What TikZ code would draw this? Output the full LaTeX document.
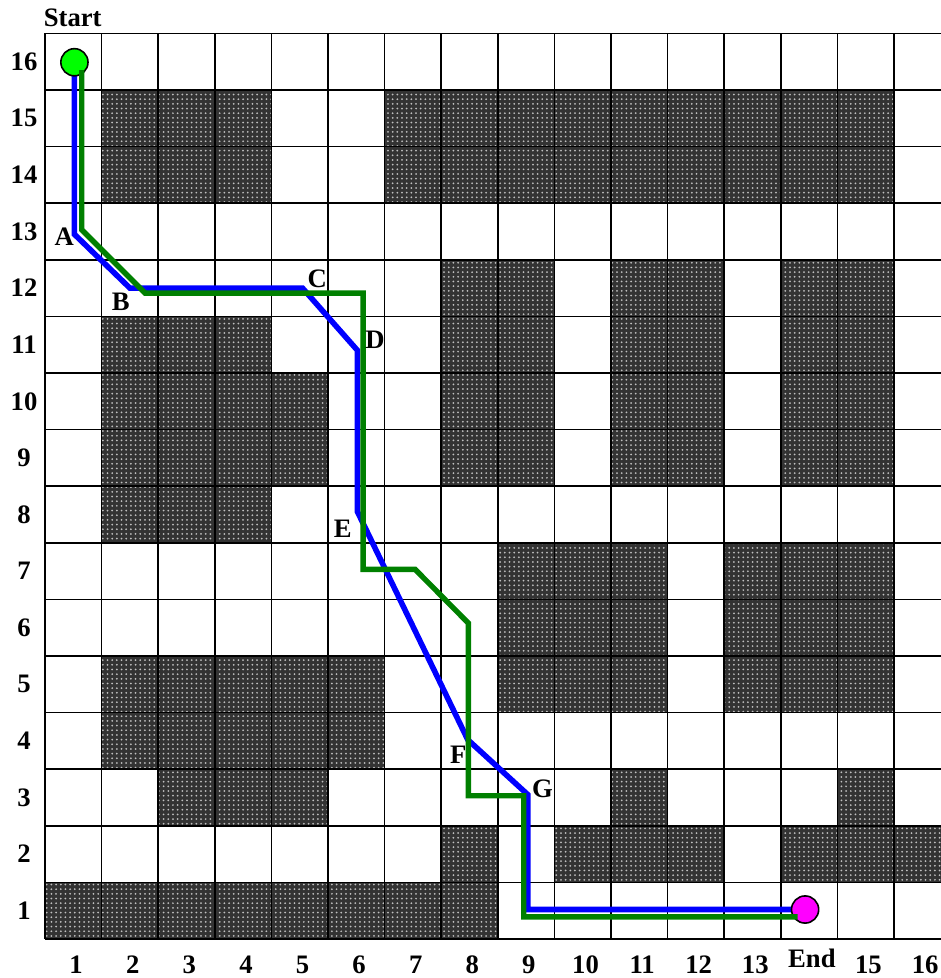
\documentclass[tikz,border=0pt]{standalone}
\usepackage{fontspec}
\setmainfont{Liberation Serif}
\usetikzlibrary{patterns.meta}
\definecolor{pathblue}{RGB}{0,0,255}
\definecolor{pathgreen}{RGB}{0,128,0}
\definecolor{startgreen}{RGB}{0,255,0}
\definecolor{endmagenta}{RGB}{255,0,255}
\begin{document}
\begin{tikzpicture}[x=1cm,y=1cm,
  lbl/.style={font=\fontsize{13.4}{15}\selectfont\bfseries, inner sep=0pt},
  obst/.style={fill=black!80, postaction={pattern={Dots[radius=0.5pt,distance=2.35pt]}, pattern color=white!75!black}},
  gridline/.style={line width=0.8pt},
  bluepath/.style={draw=pathblue, line width=2.8pt},
  greenpath/.style={draw=pathgreen, line width=2.7pt},
  endpt/.style={circle, draw=black, line width=0.8pt, minimum size=0.48cm, inner sep=0pt}
]
\useasboundingbox (-0.795,-0.69) rectangle (15.83,16.59);
% obstacles
\foreach \xa/\ya/\xb/\yb in {0/0/8/1, 7/1/8/2, 9/1/12/2, 13/1/16/2,
  2/2/5/3, 10/2/11/3, 14/2/15/3, 1/3/6/5, 8/4/11/7, 12/4/15/7,
  1/7/4/11, 4/8/5/10, 7/8/9/12, 10/8/12/12, 13/8/15/12,
  1/13/4/15, 6/13/15/15}
  \path[obst] (\xa,\ya) rectangle (\xb,\yb);
\draw[gridline] (0,0) grid (16,16);
% waypoints
\coordinate (S) at (0.52,15.49);
\coordinate (T) at (13.43,0.52);
\coordinate (A) at (0.52,12.45);
\coordinate (B) at (1.5,11.5);
\coordinate (C) at (4.55,11.5);
\coordinate (D) at (5.52,10.4);
\coordinate (E) at (5.52,7.55);
\coordinate (F) at (7.47,3.52);
\coordinate (G) at (8.53,2.55);
\coordinate (H) at (8.53,0.52);
\coordinate (g0) at (0.65,15.35);
\coordinate (g1) at (0.65,12.53);
\coordinate (g2) at (1.77,11.41);
\coordinate (g3) at (5.62,11.41);
\coordinate (g4) at (5.62,6.53);
\coordinate (g5) at (6.54,6.53);
\coordinate (g6) at (7.48,5.58);
\coordinate (g7) at (7.48,2.53);
\coordinate (g8) at (8.46,2.53);
\coordinate (g9) at (8.46,0.39);
\coordinate (g10) at (13.3,0.39);
% blue path
\draw[bluepath] (S) -- (A) -- (B) -- (C) -- (D) -- (E) -- (F) -- (G) -- (H) -- (T);
% start / end
\node[endpt, fill=startgreen] (start) at (S) {};
\node[endpt, fill=endmagenta] (end) at (T) {};
% green path
\draw[greenpath] (g0) -- (g1) -- (g2) -- (g3) -- (g4) -- (g5) -- (g6) -- (g7) -- (g8) -- (g9) -- (g10);
% point labels
\node[lbl] (lA) at (0.34,12.40) {A};
\node[lbl] (lB) at (1.34,11.26) {B};
\node[lbl] (lC) at (4.81,11.67) {C};
\node[lbl] (lD) at (5.83,10.59) {D};
\node[lbl] (lE) at (5.26,7.25) {E};
\node[lbl] (lF) at (7.30,3.25) {F};
\node[lbl] (lG) at (8.79,2.66) {G};
\node[lbl] (lStart) at (0.49,16.27) {Start};
\node[lbl] (lEnd) at (13.55,-0.34) {End};
% axis labels
\foreach \r in {1,...,16}
  \node[lbl] (row\r) at (-0.37,\r-0.5) {\r};
\foreach \c in {1,...,13,15,16}
  \node[lbl] (col\c) at (\c-0.45,-0.46) {\c};
\end{tikzpicture}
\end{document}
